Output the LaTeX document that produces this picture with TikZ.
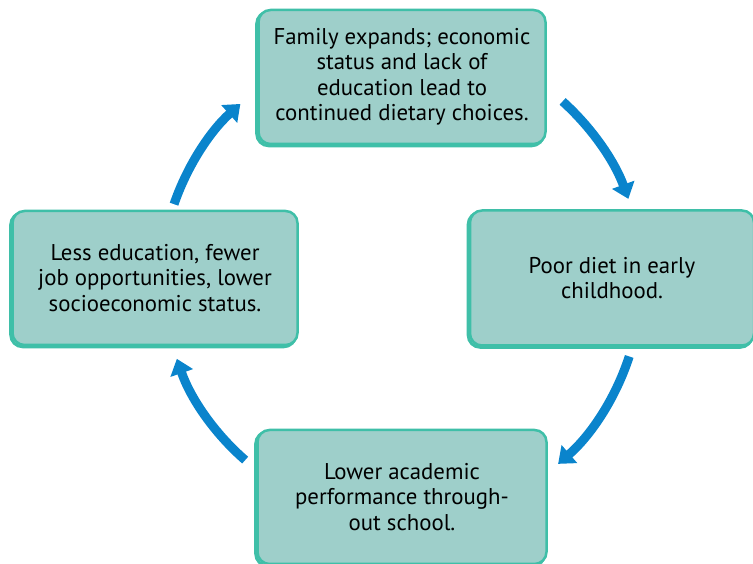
\documentclass[tikz,border=0pt]{standalone}
\usepackage{fontspec}
\setmainfont{PT Sans}
\usetikzlibrary{arrows.meta}

\definecolor{boxfill}{HTML}{9ECFCA}
\definecolor{boxline}{HTML}{3FBFA8}
\definecolor{cycblue}{HTML}{0A84CC}

\begin{document}
\begin{tikzpicture}[x=1pt, y=1pt,
    stage/.style={fill=boxfill, draw=boxline, line width=2.5pt, rounded corners=12pt,
      align=center, font=\fontsize{22.8}{25.5}\selectfont,
      preaction={draw=boxline, line width=3pt, transform canvas={shift={(-1.8pt,-1.8pt)}}}},
    arr/.style={draw=cycblue, line width=9pt, -{Triangle[length=15pt,width=23pt]}}]
    \useasboundingbox (0,0) rectangle (753,564);
    \clip (0,0) rectangle (753,564);

    \node[stage, minimum width=287pt, minimum height=134pt] (family) at (402,487) {Family expands; economic\\status and lack of\\education lead to\\continued dietary choices.};
    \node[stage, minimum width=284pt, minimum height=135pt] (diet) at (612,286) {Poor diet in early\\childhood.};
    \node[stage, minimum width=289pt, minimum height=134pt] (school) at (402,67) {Lower academic\\performance through-\\out school.};
    \node[stage, minimum width=285pt, minimum height=134pt] (status) at (155,286) {Less education, fewer\\job opportunities, lower\\socioeconomic status.};

    % the cycle, arcs round one centre
    \coordinate (hub) at (400,282);
    \draw[arr] ([shift={(48:243)}]hub) arc[start angle=48, end angle=20, radius=243];
    \draw[arr] ([shift={(-18:241)}]hub) arc[start angle=-18, end angle=-49, radius=241];
    \draw[arr] ([shift={(229:236)}]hub) arc[start angle=229, end angle=199, radius=236];
    \draw[arr] ([shift={(161:239)}]hub) arc[start angle=161, end angle=132, radius=240];
\end{tikzpicture}
\end{document}
